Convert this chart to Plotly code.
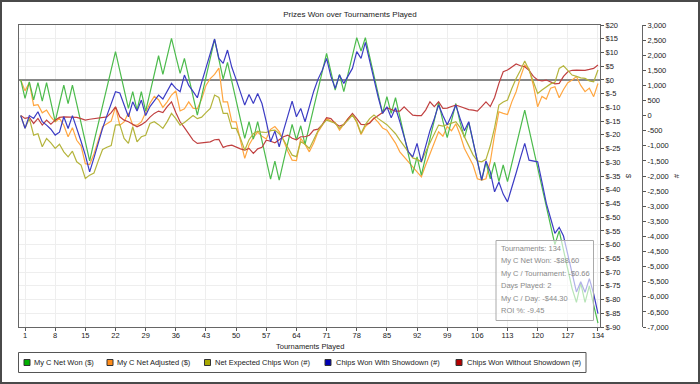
import plotly.graph_objects as go

# ---------------- data ----------------
tournaments = list(range(0, 135))

net_won = [0, -6.7, -0.7, -7.3, -1, -7.7, -1, -8, -15.2, -8.5,
           -1.9, -8.6, -1.9, -8.7, -15.5, -22.4, -29.5, -22.6, -16, -9.4,
           -2.8, 3.7, 10.3, 3.4, -3.5, -10.4, -4.3, -11, -4.3, -11.4,
           -4.7, 2.1, 8.8, 2, 8.5, 15.1, 8.7, 2.4, 7.8, 1,
           -5.9, -12.8, -5.9, 1, 7.9, 14.8, 7.5, 0.3, 6.4, -0.6,
           -7.5, -14.4, -21.3, -15.2, -21.6, -15.2, -22.2, -29.1, -36.1, -29.6,
           -36.5, -29.7, -23, -16.2, -21.9, -16.7, -23.5, -16.9, -10.2, -3.6,
           3.1, 9.7, 3, -3.7, 2, -4.3, 2.3, 8.9, 15.4, 10.5,
           15.4, 8.5, 1.6, -5.3, -12.2, -6.1, -12.2, -6.5, -13.4, -20.3,
           -27.2, -34.1, -28, -34.7, -28, -21.5, -14.9, -8.2, -15, -21,
           -14.8, -8.6, -15.5, -21, -15.5, -22.5, -29.5, -36.5, -30, -36,
           -30, -37, -31, -37, -30.5, -24, -17.5, -11, -18, -25,
           -32, -39, -46, -53, -60, -55, -62, -69, -76, -81,
           -74, -81, -75, -82, -88.6]

net_adjusted = [0, -4, -1, -9.3, -9, -12, -11, -13.5, -15.3, -14,
                -16.5, -20.7, -17.4, -22, -24, -30.5, -30.8, -27, -22, -17,
                -16, -15, -9.8, -16.5, -15.3, -12, -16.5, -16.5, -15.3, -12,
                -8.5, -6, -7.2, -10, -8, -5.5, -4, -11.3, -10.5, -8,
                -10.3, -10.5, -7, -2, 0.5, 2, 4.3, -8, -8, -15.2,
                -15.3, -22, -28.6, -23.7, -21, -19, -20.5, -21.5, -18, -17,
                -18.8, -22, -26, -29.2, -29.4, -21.3, -23.5, -26.2, -23, -19,
                -16.5, -14, -15, -15.5, -18.3, -16, -14, -12.6, -15.5, -19.9,
                -17, -15.5, -13.8, -15.5, -17.5, -18.3, -20.5, -23, -26.2, -28,
                -30, -31.5, -33.4, -35.3, -31, -27, -22.5, -18.9, -20.5, -17,
                -18.5, -16, -20, -25, -28, -31, -36, -36.5, -36, -29.8,
                -20, -11.6, -12.2, -12.6, -8, -4.3, 1, 5.4, 4, -2,
                -9.8, -6, -7, -3, -2.5, -6.5, -3.5, -1, 0, 1.2,
                -2, -4.3, -3, -6.1, -1.3]

expected_chips = [0, -420, -94, -646, -600, -1033, -757, -900, -1088, -950,
                  -1199, -1365, -1180, -1530, -1640, -2082, -1972, -1900, -1500, -1122,
                  -1050, -990, -315, -300, -757, -922, -370, -867, -701, -650,
                  -260, -200, -300, -425, -200, 72, -100, -315, -230, -100,
                  0, -100, -50, 100, 238, 680, 600, 72, 72, -425,
                  -425, -750, -1144, -800, -600, -514, -550, -560, -500, -480,
                  -600, -800, -1050, -1310, -1360, -867, -950, -1088, -800, -500,
                  -300, -150, -200, -250, -425, -300, -150, 17, -200, -591,
                  -300, -100, 17, -100, -200, -300, -450, -600, -812, -1000,
                  -1200, -1400, -1450, -1530, -1200, -900, -600, -315, -350, -300,
                  -250, -200, -400, -700, -1000, -1300, -1500, -1530, -1450, -1000,
                  -400, 348, 450, 514, 900, 1232, 1500, 1806, 1508, 1100,
                  735, 850, 956, 1050, 1100, 1564, 1650, 1500, 1343, 1300,
                  1250, 1232, 1150, 1121, 1508]

chips_showdown = [0, -420, 0, -94, 127, -200, -315, -450, -646, -550,
                  -39, -425, 0, -400, -850, -1310, -1862, -1400, -900, -425,
                  0, 400, 790, 750, 348, -39, 456, 149, 514, 0,
                  300, 500, 680, 550, 800, 1066, 900, 790, 1343, 1000,
                  800, 590, 1100, 1600, 2100, 2536, 1895, 1730, 2171, 1600,
                  1200, 800, 348, 700, 403, 735, 400, -200, -867, -514,
                  -1033, -500, 0, 478, -39, 238, -204, 300, 800, 1200,
                  1500, 1895, 1300, 900, 1343, 1066, 1300, 1563, 2116, 1895,
                  2426, 1800, 1200, 600, 72, 293, -72, 260, -200, -700,
                  -1199, -1365, -922, -1530, -1000, -500, -100, 348, 0, -300,
                  0, 348, -100, -500, -200, -800, -1500, -2137, -1500, -1862,
                  -2524, -2200, -2600, -2856, -2400, -1900, -1400, -922, -1475, -1500,
                  -1530, -2200, -2900, -3400, -3900, -3700, -3989, -4600, -5200, -5839,
                  -5500, -5850, -5400, -5900, -6558]

chips_no_showdown = [0, -93, -60, -260, -93, -315, -149, -282, -150, -60,
                     -40, -40, -40, -60, -100, -149, -120, -106, -80, -60,
                     -40, 100, 292, -40, -150, -205, -300, -371, -300, -205,
                     -50, 73, 150, 100, 300, 457, 100, -205, -400, -600,
                     -812, -921, -900, -880, -870, -800, -789, -1054, -1000, -978,
                     -1050, -1100, -1143, -1087, -1254, -1100, -1050, -812, -850, -900,
                     -800, -700, -646, -750, -800, -700, -700, -650, -481, -450,
                     -300, -72, -100, -260, -350, -300, -100, 72, -100, -293,
                     -300, -250, -94, 0, 100, 260, 200, 150, 149, 293,
                     150, 17, 0, 0, 182, 459, 300, 458, 238, 250,
                     300, 348, 300, 250, 200, 182, 149, 300, 458, 300,
                     600, 1067, 1453, 1509, 1600, 1707, 1650, 1618, 1500, 1300,
                     1177, 1150, 1177, 1100, 1050, 1067, 1300, 1453, 1500, 1508,
                     1500, 1500, 1530, 1564, 1674]

series_names = ["My C Net Won ($)", "My C Net Adjusted ($)", "Net Expected Chips Won (#)",
                "Chips Won With Showdown (#)", "Chips Won Without Showdown (#)"]
line_colors = ["#4cbb4c", "#ffa640", "#b4b43c", "#3c3cc4", "#c04040"]
legend_colors = ["#00b000", "#ff8c1a", "#a8a800", "#0000b4", "#b40000"]

x_ticks = list(range(1, 135, 7))
dollar_ticks = list(range(-90, 25, 5))
chip_ticks = list(range(-7000, 3500, 500))

tooltip_lines = ["Tournaments: 134", "My C Net Won: -$88.60", "My C / Tournament: -$0.66",
                 "Days Played: 2", "My C / Day: -$44.30", "ROI %: -9.45"]

# ---------------- geometry helpers (pixel -> paper) ----------------
W, H = 700, 384
ML, MR, MT, MB = 19, 58, 25, 57
PW, PH = W - ML - MR, H - MT - MB


def px(x):
    return (x - ML) / PW


def py(y):
    return (H - MB - y) / PH


FONT = "Liberation Sans"
SMALL = 7.5

fig = go.Figure()

series = [(net_won, "y"), (net_adjusted, "y"), (expected_chips, "y2"),
          (chips_showdown, "y2"), (chips_no_showdown, "y2")]
order = [4, 2, 1, 3, 0]
for i in order:
    vals, ax = series[i]
    fig.add_trace(go.Scatter(x=tournaments, y=vals, mode="lines", name=series_names[i],
                             yaxis=ax, showlegend=False,
                             line=dict(color=line_colors[i], width=1.2)))

shapes = []
annotations = []

# outer frame
shapes.append(dict(type="rect", xref="paper", yref="paper", x0=px(1), x1=px(699),
                   y0=py(383), y1=py(1), line=dict(color="#4a4a4a", width=2),
                   fillcolor="rgba(0,0,0,0)", layer="above"))

# legend box
shapes.append(dict(type="rect", xref="paper", yref="paper", x0=px(18.5), x1=px(586),
                   y0=py(372.5), y1=py(352.5), line=dict(color="#555555", width=1),
                   fillcolor="white", layer="above"))
sq_x = [27, 110, 207.5, 328, 459]
txt_x = [32, 115, 213, 333.5, 464.5]
for i, name in enumerate(series_names):
    shapes.append(dict(type="rect", xref="paper", yref="paper",
                       x0=px(sq_x[i] - 3), x1=px(sq_x[i] + 3),
                       y0=py(365.5), y1=py(359.5),
                       line=dict(color="#333333", width=1),
                       fillcolor=legend_colors[i], layer="above"))
    annotations.append(dict(x=px(txt_x[i]), y=py(362.5), xref="paper", yref="paper",
                            text=name, showarrow=False, xanchor="left", yanchor="middle",
                            font=dict(family=FONT, size=SMALL, color="#222")))

# tooltip box
shapes.append(dict(type="rect", xref="paper", yref="paper", x0=px(496), x1=px(593.5),
                   y0=py(320.5), y1=py(240.5), line=dict(color="#aaaaaa", width=1),
                   fillcolor="rgba(255,255,255,0.6)", layer="above"))
tip_y = [248.3, 260.8, 273.3, 285.8, 298.3, 310.8]
for line_txt, yy in zip(tooltip_lines, tip_y):
    annotations.append(dict(x=px(499), y=py(yy), xref="paper", yref="paper",
                            text=line_txt, showarrow=False, xanchor="left", yanchor="middle",
                            font=dict(family=FONT, size=SMALL, color="#8a8a8a")))

# axis titles
annotations.append(dict(x=px(309.5), y=py(347), xref="paper", yref="paper",
                        text="Tournaments Played", showarrow=False,
                        xanchor="center", yanchor="middle",
                        font=dict(family=FONT, size=SMALL, color="#222")))
annotations.append(dict(x=px(629), y=py(176), xref="paper", yref="paper",
                        text="$", showarrow=False, textangle=90,
                        xanchor="center", yanchor="middle",
                        font=dict(family=FONT, size=SMALL, color="#222")))
annotations.append(dict(x=px(677), y=py(176), xref="paper", yref="paper",
                        text="#", showarrow=False, textangle=90,
                        xanchor="center", yanchor="middle",
                        font=dict(family=FONT, size=SMALL, color="#222")))

fig.update_layout(
    width=W, height=H,
    margin=dict(l=ML, r=MR, t=MT, b=MB, pad=0),
    paper_bgcolor="white", plot_bgcolor="white",
    font=dict(family=FONT, size=8, color="#222"),
    title=dict(text="Prizes Won over Tournaments Played", x=0.5, xanchor="center",
               y=1 - 14 / H, yanchor="middle", font=dict(family=FONT, size=8, color="#222")),
    showlegend=False,
    hovermode=False,
    xaxis=dict(domain=[0, (600 - ML) / PW], range=[-0.4, 134.47],
               tickvals=x_ticks, ticktext=[str(v) for v in x_ticks],
               ticks="outside", ticklen=3, tickcolor="#555", ticklabelstandoff=-2,
               showline=True, linecolor="#666", linewidth=1, mirror=True,
               showgrid=True, gridcolor="#eeeeee", zeroline=False,
               tickfont=dict(family=FONT, size=SMALL, color="#222")),
    yaxis=dict(side="right", anchor="x", range=[-90, 20],
               tickvals=dollar_ticks, ticktext=[f"${v}" for v in dollar_ticks],
               ticks="outside", ticklen=3, tickcolor="#555",
               showline=True, linecolor="#666", linewidth=1, mirror=True,
               showgrid=True, gridcolor="#eeeeee",
               zeroline=True, zerolinecolor="#888888", zerolinewidth=2,
               tickfont=dict(family=FONT, size=SMALL, color="#222")),
    yaxis2=dict(side="right", overlaying="y", anchor="free", position=1.0,
                range=[-7000, 3000],
                tickvals=chip_ticks, ticktext=[f"{v:,}" for v in chip_ticks],
                ticks="outside", ticklen=3, tickcolor="#555",
                showline=True, linecolor="#666", linewidth=1,
                showgrid=False, zeroline=False,
                tickfont=dict(family=FONT, size=SMALL, color="#222")),
    shapes=shapes,
    annotations=annotations,
)

fig.write_html("out.html", config={"displayModeBar": False, "staticPlot": True},
               post_script="document.body.style.margin='0';document.body.style.overflow='hidden';")
